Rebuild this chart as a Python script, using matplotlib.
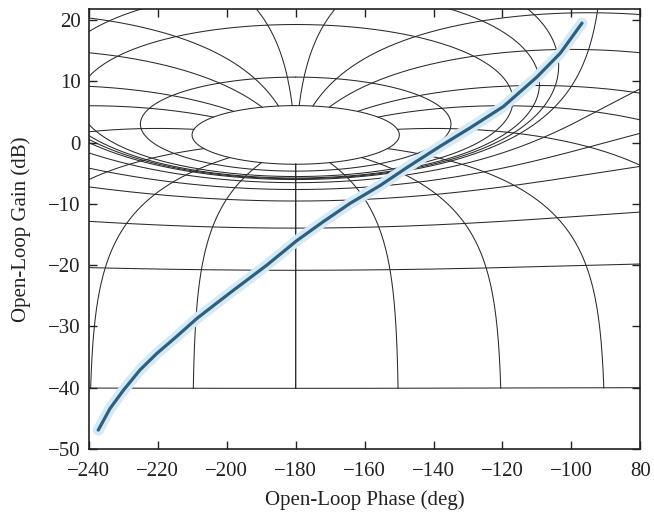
import numpy as np
import matplotlib.pyplot as plt

plt.rcParams['font.family'] = ['Liberation Serif', 'DejaVu Serif']

# Nichols grid: closed-loop gain contours (dB) and closed-loop phase contours (deg)
m_levels_db = [6, 3, 1, 0.5, 0.25, 0, -1, -3, -6, -12, -20, -40]
n_levels_deg = [-1, -5, -10, -20, -30, -50, -90, -120, -150, -180]
n_gain_range_db = [-40, 6]

# Open-loop frequency response
curve_phase = [-237.3, -233.9, -230.0, -225.2, -220.3, -214.5, -208.7, -202.5,
               -198.1, -188.4, -179.7, -172.0, -164.2, -155.5, -147.8, -138.1,
               -129.4, -119.7, -110.0, -103.2, -96.9]
curve_gain = [-46.9, -43.4, -40.4, -37.1, -34.4, -31.6, -28.7, -26.0,
              -24.1, -20.0, -16.0, -12.9, -9.9, -7.0, -4.1, -0.6,
              2.4, 5.9, 10.7, 14.6, 19.5]

x_ticks = [-240, -220, -200, -180, -160, -140, -120, -100, -80]
x_tick_labels = ['\u2212240', '\u2212220', '\u2212200', '\u2212180', '\u2212160',
                 '\u2212140', '\u2212120', '\u2212100', '80']
y_ticks = [-50, -40, -30, -20, -10, 0, 10, 20]
y_tick_labels = ['\u221250', '\u221240', '\u221230', '\u221220', '\u221210', '0', '10', '20']


def wrap(ph):
    return np.where(ph > 0, ph - 360, ph)


fig = plt.figure(figsize=(6.54, 5.15), dpi=100)
ax = fig.add_axes([0.136, 0.128, 0.843, 0.8545])

grid_kw = dict(color='#2a2a2a', lw=0.75, zorder=1)

theta = -np.logspace(-5, np.log10(180), 4000)
for mdb in m_levels_db:
    M = 10 ** (mdb / 20)
    T = M * np.exp(1j * np.deg2rad(theta))
    with np.errstate(divide='ignore', invalid='ignore'):
        G = T / (1 - T)
    gain = 20 * np.log10(np.abs(G))
    ph = wrap(np.angle(G, deg=True))
    ax.plot(ph, gain, **grid_kw)
    ax.plot(-360 - ph, gain, **grid_kw)

mags = np.logspace(n_gain_range_db[0] / 20, n_gain_range_db[1] / 20, 3000)
for ndeg in n_levels_deg:
    T = mags * np.exp(1j * np.deg2rad(ndeg))
    G = T / (1 - T)
    gain = 20 * np.log10(np.abs(G))
    ph = wrap(np.angle(G, deg=True))
    if ndeg == -180:
        ph = np.full_like(ph, -180.0)
    ax.plot(ph, gain, **grid_kw)
    ax.plot(-360 - ph, gain, **grid_kw)

# response curve with light halo
ax.plot(curve_phase, curve_gain, color='#d6eaf6', lw=8, solid_capstyle='round',
        solid_joinstyle='round', zorder=3)
ax.plot(curve_phase, curve_gain, color='#2f5f7f', lw=2.3, solid_capstyle='round',
        solid_joinstyle='round', zorder=4)

ax.set_xlim(-240, -80)
ax.set_ylim(-50, 21.8)
ax.set_xticks(x_ticks)
ax.set_xticklabels(x_tick_labels)
ax.set_yticks(y_ticks)
ax.set_yticklabels(y_tick_labels)
ax.tick_params(direction='in', top=True, right=True, length=6, width=1.0,
               labelsize=15, colors='#222222')
ax.tick_params(axis='x', pad=9)
ax.tick_params(axis='y', pad=6)
for s in ax.spines.values():
    s.set_linewidth(1.2)
    s.set_color('#222222')

ax.set_xlabel('Open-Loop Phase (deg)', fontsize=15, color='#222222', labelpad=7)
ax.set_ylabel('Open-Loop Gain (dB)', fontsize=15, color='#222222', labelpad=12)

fig.savefig('out.png', dpi=100)
